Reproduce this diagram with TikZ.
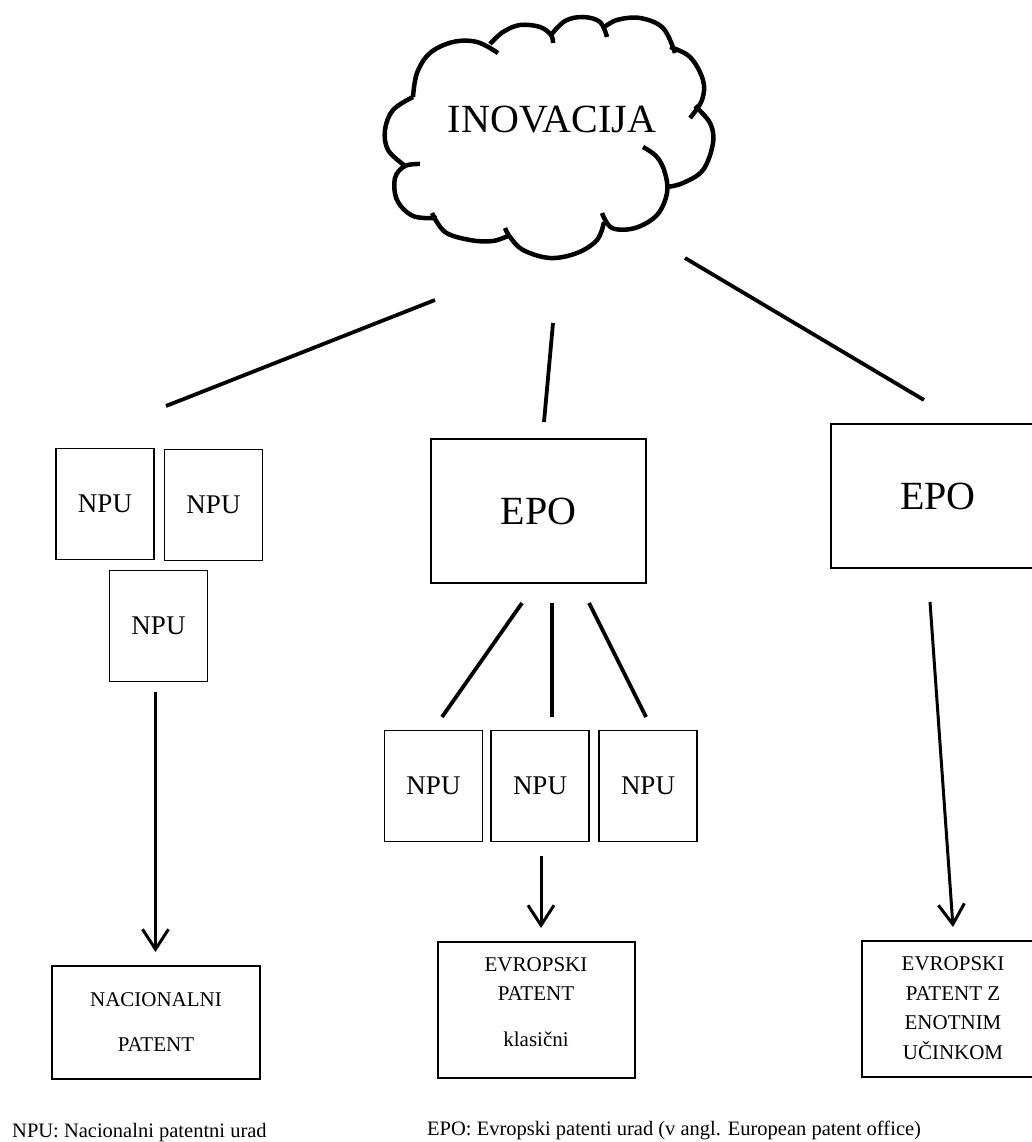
\documentclass[tikz,border=0pt]{standalone}
\usepackage{fontspec}
\setmainfont{Liberation Serif}
\usetikzlibrary{arrows.meta}
\begin{document}
\begin{tikzpicture}[x=1pt,y=-1pt,
  box/.style={draw,line width=1.6pt,inner sep=0pt},
  npu/.style={box,minimum width=98pt,minimum height=111pt,font=\fontsize{27}{32}\selectfont},
  epobox/.style={box,font=\fontsize{40}{48}\selectfont},
  small/.style={font=\fontsize{21}{29.5}\selectfont,align=center,inner sep=0pt},
  link/.style={line width=3.8pt},
  arr/.style={line width=3pt,-{Straight Barb[length=20pt,width=26pt]}},
  cl/.style={line width=4.5pt}]
\useasboundingbox (0,0) rectangle (1032,1142);

% cloud
\node[font=\fontsize{40}{48}\selectfont,inner sep=0pt] (inov) at (552,120) {INOVACIJA};
\draw[cl] plot[smooth,tension=0.6] coordinates {(413,97) (417,73) (430,53) (453,42) (477,42) (498,53)};
\draw[cl] plot[smooth,tension=0.6] coordinates {(490,44) (503,32) (520,25) (540,27) (551,35) (553,43)};
\draw[cl] plot[smooth,tension=0.6] coordinates {(551,35) (565,21) (583,17) (600,22) (607,37)};
\draw[cl] plot[smooth,tension=0.6] coordinates {(603,28) (617,20) (640,18) (663,28) (675,53)};
\draw[cl] plot[smooth,tension=0.6] coordinates {(670,47) (690,57) (703,80) (702,100) (690,118)};
\draw[cl] plot[smooth,tension=0.6] coordinates {(695,106) (710,123) (713,143) (703,170) (683,183) (667,187)};
\draw[cl] plot[smooth,tension=0.6] coordinates {(643,147) (657,157) (665,173) (667,193) (657,215) (635,228) (612,228) (602,213)};
\draw[cl] plot[smooth,tension=0.6] coordinates {(604,222) (597,240) (577,253) (550,258) (523,250) (510,237) (505,228)};
\draw[cl] plot[smooth,tension=0.6] coordinates {(510,235) (493,241) (470,240) (445,232) (432,213)};
\draw[cl] plot[smooth,tension=0.6] coordinates {(437,218) (413,216) (397,200) (395,178) (405,166) (420,164)};
\draw[cl] plot[smooth,tension=0.6] coordinates {(404,165) (388,150) (385,130) (393,110) (413,97)};

% lines from the cloud
\coordinate (c1a) at (435,300); \coordinate (c1b) at (166,406);
\coordinate (c2a) at (553,323); \coordinate (c2b) at (544,422);
\coordinate (c3a) at (685,258); \coordinate (c3b) at (924,400);
\draw[link] (c1a) -- (c1b);
\draw[link] (c2a) -- (c2b);
\draw[link] (c3a) -- (c3b);

% left group
\node[npu] (n1) at (105,504) {NPU};
\node[npu] (n2) at (213.5,505) {NPU};
\node[npu] (n3) at (158.5,626) {NPU};

% middle EPO
\node[epobox,minimum width=215pt,minimum height=144pt] (epo1) at (538.5,511) {EPO};
\coordinate (e1a) at (522,603); \coordinate (e1b) at (442,717);
\coordinate (e2a) at (552,603); \coordinate (e2b) at (552,717);
\coordinate (e3a) at (589,603); \coordinate (e3b) at (646,717);
\draw[link] (e1a) -- (e1b);
\draw[link] (e2a) -- (e2b);
\draw[link] (e3a) -- (e3b);
\node[npu] (m1) at (433.5,786) {NPU};
\node[npu] (m2) at (540,786) {NPU};
\node[npu] (m3) at (648,786) {NPU};

% right EPO
\node[epobox,minimum width=204pt,minimum height=144pt] (epo2) at (933,496) {\hspace*{10pt}EPO};

% target boxes
\node[box,minimum width=208pt,minimum height=113pt] (np) at (156,1022.5) {};
\node[box,minimum width=197pt,minimum height=136pt] (ep) at (536.5,1010) {};
\node[box,minimum width=180pt,minimum height=136pt] (eu) at (952,1009) {};

% arrows
\coordinate (a1) at (155.5,692); \coordinate (t1) at (155.5,952);
\coordinate (a2) at (541,856);   \coordinate (t2) at (541,928);
\coordinate (a3) at (930,602);   \coordinate (t3) at (953,927);
\draw[arr] (a1) -- (t1);
\draw[arr] (a2) -- (t2);
\draw[arr] (a3) -- (t3);

\node[small,font=\fontsize{21}{45}\selectfont] (npt) at (np.center) {NACIONALNI\\PATENT};
\node[small] (ept) at (536,1002) {EVROPSKI\\PATENT\\[16pt]klasični};
\node[small] (eut) at (953,1008) {EVROPSKI\\PATENT Z\\ENOTNIM\\UČINKOM};

% footer
\node[anchor=base west,inner sep=0pt,font=\fontsize{20.5}{24}\selectfont] (f1) at (12,1137) {NPU: Nacionalni patentni urad};
\node[anchor=base west,inner sep=0pt,font=\fontsize{20.5}{24}\selectfont] (f2) at (427,1135) {EPO: Evropski patenti urad (v angl. European patent office)};
\end{tikzpicture}
\end{document}
